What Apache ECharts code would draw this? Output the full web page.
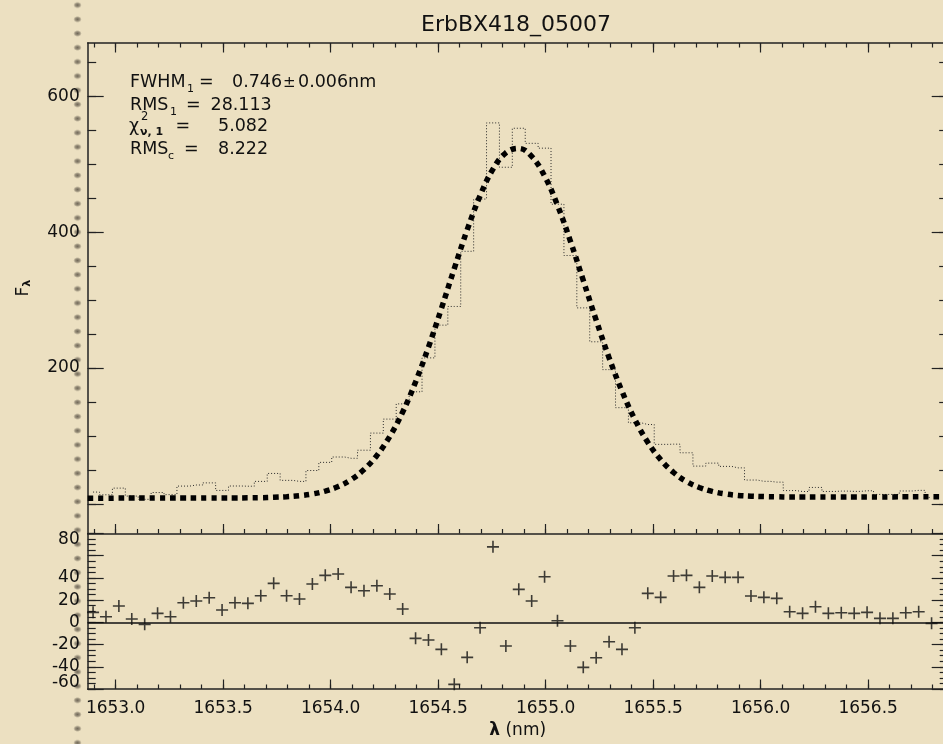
<!DOCTYPE html>
<html>
<head>
<meta charset="utf-8">
<title>ErbBX418_05007</title>
<script src="https://cdn.jsdelivr.net/npm/echarts@6/dist/echarts.min.js"></script>
<style>
  html, body { margin: 0; padding: 0; }
  #wrap { position: relative; width: 943px; height: 744px; background: #ece0c1; overflow: hidden; }
  /* perforated strip along the left margin of the sheet */
  #perf { position: absolute; left: 72px; top: 0; width: 11px; height: 744px;
    background-image: radial-gradient(ellipse 4.2px 3.2px at 50% 50%, rgba(100,92,78,.9) 0%, rgba(100,92,78,.6) 55%, rgba(100,92,78,0) 100%);
    background-size: 11px 14.2px; background-position: 0 -2px; }
  #chart { position: absolute; left: 0; top: 0; width: 943px; height: 744px; }
</style>
</head>
<body>
<div id="wrap"><div id="perf"></div><div id="chart"></div></div>
<script>
// Wavelength of each spectral pixel (nm)
const wave = [
  1652.895, 1652.955, 1653.015, 1653.075, 1653.135, 1653.195, 1653.255, 1653.315, 1653.375, 1653.435,
  1653.495, 1653.555, 1653.615, 1653.675, 1653.735, 1653.795, 1653.855, 1653.915, 1653.975, 1654.035,
  1654.095, 1654.155, 1654.215, 1654.275, 1654.335, 1654.395, 1654.455, 1654.515, 1654.575, 1654.635,
  1654.695, 1654.755, 1654.815, 1654.875, 1654.935, 1654.995, 1655.055, 1655.115, 1655.175, 1655.235,
  1655.295, 1655.355, 1655.415, 1655.475, 1655.535, 1655.595, 1655.655, 1655.715, 1655.775, 1655.835,
  1655.895, 1655.955, 1656.015, 1656.075, 1656.135, 1656.195, 1656.255, 1656.315, 1656.375, 1656.435,
  1656.495, 1656.555, 1656.615, 1656.675, 1656.735, 1656.795
];

// Observed flux F_lambda per pixel
const flux = [
  17.5, 13.5, 23.3, 11.6, 6.8, 16.8, 13.7, 26.3, 27.9, 31.0,
  19.9, 26.4, 26.1, 33.2, 44.9, 34.7, 33.2, 49.2, 61.2, 69.1,
  67.2, 79.1, 104.3, 124.9, 147.3, 165.1, 215.0, 263.2, 290.7, 371.9,
  448.8, 560.9, 495.6, 553.0, 530.8, 523.7, 441.2, 365.7, 288.6, 238.7,
  197.7, 141.7, 119.4, 116.9, 87.7, 88.0, 75.3, 55.7, 60.1, 55.3,
  53.1, 35.2, 33.3, 32.1, 19.7, 18.3, 24.3, 18.4, 18.9, 18.5,
  19.4, 14.0, 14.0, 19.1, 20.0, 9.6
];

// Gaussian + continuum model, sampled at the axis ends and at each pixel
const fitWave = [1652.87].concat(wave, [1656.87]);
const fitFlux = [
  8.5,
  8.5, 8.5, 8.6, 8.6, 8.6, 8.7, 8.7, 8.7, 8.7, 8.8,
  8.8, 8.8, 9.0, 9.2, 9.8, 10.7, 12.2, 14.7, 18.9, 25.6,
  35.7, 50.6, 71.4, 99.4, 135.3, 179.5, 230.9, 287.5, 346.5, 403.4,
  453.7, 492.9, 516.9, 523.3, 511.6, 482.7, 439.8, 387.0, 329.1, 270.6,
  215.2, 166.0, 124.3, 90.8, 65.2, 46.3, 33.0, 24.2, 18.4, 14.8,
  12.6, 11.5, 10.8, 10.5, 10.2, 10.2, 10.3, 10.3, 10.3, 10.4,
  10.4, 10.4, 10.4, 10.5, 10.5, 10.5,
  10.5
];

// Residuals (data - model)
const resid = [
  9.0, 5.0, 14.7, 3.0, -1.8, 8.1, 5.0, 17.6, 19.2, 22.2,
  11.1, 17.6, 17.1, 24.0, 35.1, 24.0, 21.0, 34.5, 42.3, 43.5,
  31.5, 28.5, 32.9, 25.5, 12.0, -14.4, -15.9, -24.3, -55.8, -31.5,
  -4.9, 68.0, -21.3, 29.7, 19.2, 41.0, 1.4, -21.3, -40.5, -31.9,
  -17.5, -24.3, -4.9, 26.1, 22.5, 41.7, 42.3, 31.5, 41.7, 40.5,
  40.5, 23.7, 22.5, 21.6, 9.5, 8.1, 14.0, 8.1, 8.6, 8.1,
  9.0, 3.6, 3.6, 8.6, 9.5, -0.9
];

// Axis ranges, ticks and tick labels
const X_MIN = 1652.87, X_MAX = 1656.87;
const UP_MIN = -43.5, UP_MAX = 678.5;
const LO_MIN = -60, LO_MAX = 80;
const xMajorTicks = [1653.0, 1653.5, 1654.0, 1654.5, 1655.0, 1655.5, 1656.0, 1656.5];
const upperMajorTicks = [0, 200, 400, 600];
const upperTickLabels = [200, 400, 600];
const lowerMajorTicks = [-60, -40, -20, 0, 20, 40, 60, 80];
const lowerTickLabels = [80, 40, 20, 0, -20, -40];
const lowerBottomLabel = [-60];

function steps(a, b, d) {
  const out = [];
  for (let k = 0; a + k * d <= b + 1e-9; k++) out.push(+(a + k * d).toFixed(3));
  return out;
}
const xMinorTicks = steps(1652.9, 1656.8, 0.1);
const upperMinorTicks = steps(0, 650, 50);
const lowerMinorTicks = steps(-60, 80, 5);

const FONT = '"DejaVu Sans", "Liberation Sans", sans-serif';
const INK = '#111';
const AXIS_LINE = { color: '#222', width: 1.5 };

function axis(grid, pos, min, max, ticks, len, withLine, extra) {
  return Object.assign({
    type: 'value', gridIndex: grid, position: pos, min: min, max: max,
    axisLine: { show: withLine, onZero: false, lineStyle: AXIS_LINE },
    axisTick: { show: !!ticks, inside: true, length: len, customValues: ticks || [],
                lineStyle: { color: '#222', width: 1.2 } },
    axisLabel: { show: false },
    splitLine: { show: false },
    minorTick: { show: false }
  }, extra || {});
}

const labelStyle = { fontSize: 17, fontFamily: FONT, color: INK };

const xAxes = [
  axis(0, 'bottom', X_MIN, X_MAX, xMajorTicks, 9.5, true),
  axis(0, 'bottom', X_MIN, X_MAX, xMinorTicks, 4.5, false),
  axis(0, 'top', X_MIN, X_MAX, xMajorTicks, 9.5, true),
  axis(0, 'top', X_MIN, X_MAX, xMinorTicks, 4.5, false),
  axis(1, 'bottom', X_MIN, X_MAX, xMajorTicks, 9.5, true, {
    axisLabel: Object.assign({ show: true, customValues: xMajorTicks, margin: 11,
      showMinLabel: true, showMaxLabel: true,
      formatter: v => v.toFixed(1) }, labelStyle),
    name: '{l|λ} (nm)', nameLocation: 'middle', nameGap: 33,
    nameTextStyle: Object.assign({ rich: { l: { fontSize: 17, fontFamily: FONT, color: INK, fontWeight: 'bold' } } }, labelStyle)
  }),
  axis(1, 'bottom', X_MIN, X_MAX, xMinorTicks, 4.5, false)
];

const yAxes = [
  axis(0, 'left', UP_MIN, UP_MAX, upperMajorTicks, 16, true, {
    axisLabel: Object.assign({ show: true, customValues: upperTickLabels, margin: 8 }, labelStyle),
    name: '{f|F}{s|λ}', nameLocation: 'middle', nameGap: 55, nameRotate: 90,
    nameTextStyle: {
      rich: {
        f: { fontSize: 17, fontFamily: FONT, color: INK },
        s: { fontSize: 11, fontFamily: FONT, color: INK, fontWeight: 'bold', padding: [8, 0, 0, 0] }
      }
    }
  }),
  axis(0, 'left', UP_MIN, UP_MAX, upperMinorTicks, 8.5, false),
  axis(0, 'right', UP_MIN, UP_MAX, upperMajorTicks, 16, true),
  axis(0, 'right', UP_MIN, UP_MAX, upperMinorTicks, 8.5, false),
  axis(1, 'left', LO_MIN, LO_MAX, lowerMajorTicks, 16, true, {
    axisLabel: Object.assign({
      show: true, customValues: lowerTickLabels, margin: 8,
      showMinLabel: true, showMaxLabel: true,
      formatter: v => v === LO_MAX ? '{t|' + v + '}' : String(v),
      rich: { t: { fontSize: 17, fontFamily: FONT, color: INK, padding: [13, 0, 0, 0] } }
    }, labelStyle)
  }),
  axis(1, 'left', LO_MIN, LO_MAX, lowerMinorTicks, 8, false),
  axis(1, 'right', LO_MIN, LO_MAX, lowerMajorTicks, 16, true),
  axis(1, 'right', LO_MIN, LO_MAX, lowerMinorTicks, 8, false),
  // bottom label of the residual scale, lifted inside the panel
  axis(1, 'left', LO_MIN, LO_MAX, null, 0, false, {
    axisLabel: Object.assign({
      show: true, customValues: lowerBottomLabel, margin: 8,
      showMinLabel: true, showMaxLabel: true,
      formatter: v => '{b|' + v + '}',
      rich: { b: { fontSize: 17, fontFamily: FONT, color: INK, padding: [0, 0, 12, 0] } }
    }, labelStyle)
  })
];

// Title and fit statistics block
function txt(x, y, s, size, weight, align) {
  return { type: 'text', x: x, y: y, z: 100,
    style: { text: s, font: (weight ? weight + ' ' : '') + size + 'px ' + FONT, fill: INK,
             verticalAlign: 'middle', align: align || 'left' } };
}
const stats = [
  txt(516, 25, 'ErbBX418_05007', 22, '', 'center'),
  txt(130, 82.7, 'FWHM', 17.5), txt(187, 89.5, '1', 11), txt(199, 82.7, '=', 17.5),
  txt(232, 82.7, '0.746', 17.5), txt(283, 83, '±', 15), txt(298, 82.7, '0.006nm', 17.5),
  txt(130, 105.5, 'RMS', 17.5), txt(170, 112, '1', 11), txt(186, 105.5, '=', 17.5),
  txt(210.5, 105.5, '28.113', 17.5),
  txt(129, 126.5, 'χ', 17.5), txt(141, 117, '2', 11.5), txt(140, 132.5, 'ν, 1', 11, 'bold'),
  txt(175.5, 126.5, '=', 17.5), txt(218, 126.5, '5.082', 17.5),
  txt(130, 149.7, 'RMS', 17.5), txt(168, 156, 'c', 11), txt(184, 149.7, '=', 17.5),
  txt(218, 149.7, '8.222', 17.5)
];

const chart = echarts.init(document.getElementById('chart'), null, { renderer: 'canvas' });
chart.setOption({
  animation: false,
  backgroundColor: 'transparent',
  grid: [
    { left: 87.7, top: 43, width: 860, height: 490.5, outerBoundsMode: 'none', containLabel: false },
    { left: 87.7, top: 533.5, width: 860, height: 155.5, outerBoundsMode: 'none', containLabel: false }
  ],
  xAxis: xAxes,
  yAxis: yAxes,
  graphic: stats,
  series: [
    {
      name: 'flux', type: 'line', xAxisIndex: 0, yAxisIndex: 0,
      data: wave.map((w, i) => [w, flux[i]]),
      step: 'middle', symbol: 'none', silent: true,
      lineStyle: { color: '#2a2a2a', width: 1, type: [1, 2] }
    },
    {
      name: 'fit', type: 'line', xAxisIndex: 0, yAxisIndex: 0,
      data: fitWave.map((w, i) => [w, fitFlux[i]]),
      smooth: 0.4, symbol: 'none', silent: true,
      lineStyle: { color: '#000', width: 5.5, type: [5.5, 4.8], cap: 'butt' }
    },
    {
      name: 'residual', type: 'scatter', xAxisIndex: 4, yAxisIndex: 4,
      data: wave.map((w, i) => [w, resid[i]]),
      symbol: 'path://M6,0V12M0,6H12', symbolSize: 12, silent: true,
      itemStyle: { color: 'rgba(0,0,0,0)', borderColor: '#111', borderWidth: 1.6 },
      markLine: {
        silent: true, symbol: 'none', label: { show: false },
        lineStyle: { color: '#111', width: 1.5, type: 'solid' },
        data: [{ yAxis: 0 }]
      }
    }
  ]
});
</script>
</body>
</html>
